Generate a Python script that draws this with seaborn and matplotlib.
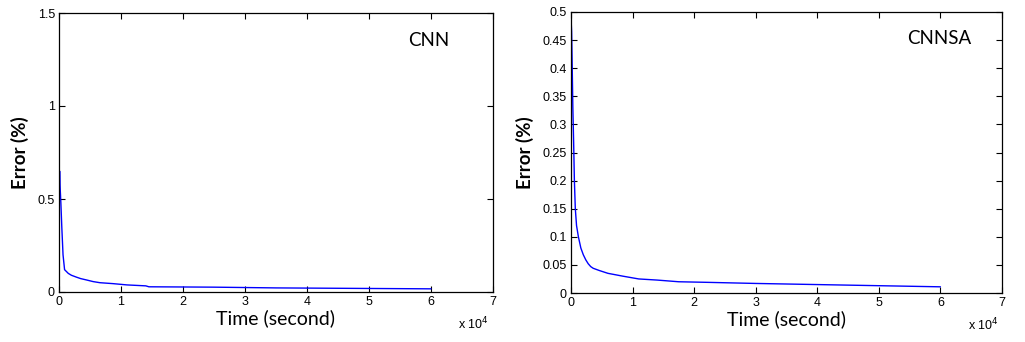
import numpy as np
import pandas as pd
import matplotlib
matplotlib.use("Agg")
import matplotlib.pyplot as plt
import seaborn as sns

# Data (time in units of 1e4 seconds, error in %)
cnn_time = [0.0, 0.01, 0.02, 0.03, 0.045, 0.065, 0.09, 0.15, 0.2, 0.28, 0.35, 0.44, 0.55, 0.66,
            0.87, 1.1, 1.4, 1.45, 2.0, 2.5, 3.0, 3.5, 4.0, 4.5, 5.0, 5.5, 6.0]
cnn_error = [0.5, 0.65, 0.55, 0.48, 0.35, 0.2, 0.12, 0.1, 0.09, 0.08, 0.072, 0.065, 0.056, 0.05,
             0.045, 0.038, 0.033, 0.028, 0.027, 0.026, 0.024, 0.022, 0.021, 0.02, 0.019, 0.018, 0.017]

cnnsa_time = [0.0, 0.01, 0.02, 0.03, 0.043, 0.055, 0.07, 0.09, 0.12, 0.16, 0.2, 0.24, 0.28, 0.32, 0.36, 0.46,
              0.6, 0.84, 1.1, 1.4, 1.75, 2.2, 2.6, 3.0, 3.5, 4.0, 4.5, 5.0, 5.5, 6.0]
cnnsa_error = [0.49, 0.465, 0.4, 0.33, 0.267, 0.2, 0.15, 0.12, 0.1, 0.08, 0.068, 0.059, 0.052, 0.047, 0.044, 0.04,
               0.035, 0.03, 0.025, 0.023, 0.02, 0.019, 0.018, 0.017, 0.016, 0.015, 0.014, 0.013, 0.012, 0.011]

cnn_yticks = [0, 0.5, 1, 1.5]
cnn_yticklabels = ["0", "0.5", "1", "1.5"]
cnnsa_yticks = [0, 0.05, 0.1, 0.15, 0.2, 0.25, 0.3, 0.35, 0.4, 0.45, 0.5]
cnnsa_yticklabels = ["0", "0.05", "0.1", "0.15", "0.2", "0.25", "0.3", "0.35", "0.4", "0.45", "0.5"]
xticks = [0, 1, 2, 3, 4, 5, 6, 7]
titles = ["CNN", "CNNSA"]

sns.set_style("ticks")
plt.rcParams["font.family"] = ["Liberation Sans", "DejaVu Sans"]
plt.rcParams["text.color"] = "black"
plt.rcParams["axes.labelcolor"] = "black"
plt.rcParams["xtick.color"] = "black"
plt.rcParams["ytick.color"] = "black"

fig = plt.figure(figsize=(10.25, 3.42), dpi=100)
ax1 = fig.add_axes([59/1025, 1 - 292/342, (493-59)/1025, (292-13)/342])
ax2 = fig.add_axes([571/1025, 1 - 293/342, (1002-571)/1025, (293-12)/342])

df1 = pd.DataFrame({"t": cnn_time, "e": cnn_error})
df2 = pd.DataFrame({"t": cnnsa_time, "e": cnnsa_error})

sns.lineplot(data=df1, x="t", y="e", ax=ax1, color="#0000ff", linewidth=1, estimator=None, sort=False)
sns.lineplot(data=df2, x="t", y="e", ax=ax2, color="#0000ff", linewidth=1, estimator=None, sort=False)

for ax, yt, ytl, ymax, title, tx, ty in [(ax1, cnn_yticks, cnn_yticklabels, 1.5, titles[0], 0.804, 0.903),
                                           (ax2, cnnsa_yticks, cnnsa_yticklabels, 0.5, titles[1], 0.78, 0.904)]:
    ax.set_xlim(0, 7)
    ax.set_ylim(0, ymax)
    ax.set_xticks(xticks)
    ax.set_xticklabels([str(x) for x in xticks], fontsize=9)
    ax.set_yticks(yt)
    ax.set_yticklabels(ytl, fontsize=9)
    ax.tick_params(direction="in", top=True, right=True, length=4, width=0.8, pad=3)
    for s in ax.spines.values():
        s.set_linewidth(0.9)
        s.set_color("black")
    ax.set_xlabel("Time (second)", fontsize=14, family=["Lato", "DejaVu Sans"], labelpad=1)
    ax.set_ylabel("Error (%)", fontsize=13.5, family=["Lato", "DejaVu Sans"], fontweight="bold", labelpad=6)
    ax.text(tx, ty, title, transform=ax.transAxes, fontsize=13.5,
            family=["Lato", "DejaVu Sans"], ha="left", va="center")
    ax.text(0.92, -0.115, r"x 10$^{4}$", transform=ax.transAxes, fontsize=9, ha="left", va="center")

fig.savefig("out.png", dpi=100)
